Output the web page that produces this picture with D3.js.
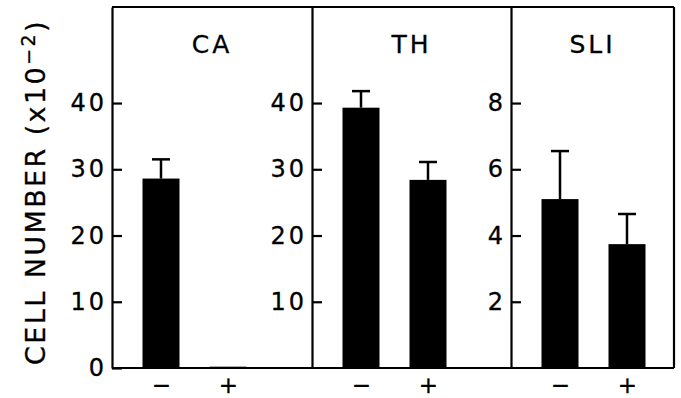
<!DOCTYPE html>
<html>
<head>
<meta charset="utf-8">
<script src="https://cdnjs.cloudflare.com/ajax/libs/d3/7.8.5/d3.min.js"></script>
<style>
  body { margin: 0; background: #fff; }
  svg text { font-family: "DejaVu Sans", sans-serif; fill: #000; stroke: #000; stroke-width: 0.3px; }
</style>
</head>
<body>
<div id="chart"></div>
<script>
var width = 681, height = 398;

// data
var panelNames = ["CA", "TH", "SLI"];
var treatments = ["\u2212", "+"];
var means = [[28.6, 0.2], [39.3, 28.4], [5.1, 3.74]];
var errTops = [[31.5, null], [41.8, 31.1], [6.55, 4.65]];
var yMax = [54.5, 54.5, 10.9];
var yTicks = [[0, 10, 20, 30, 40], [10, 20, 30, 40], [2, 4, 6, 8]];

// layout
var plotTop = 7, plotBottom = 368;
var panelX = [[112, 312], [312, 511], [511, 674]];
var barW = 37, capW = 18;

var svg = d3.select("#chart").append("svg")
    .attr("width", width)
    .attr("height", height);

panelNames.forEach(function(name, p) {
    var x0 = panelX[p][0], x1 = panelX[p][1];
    var y = d3.scaleLinear().domain([0, yMax[p]]).range([plotBottom, plotTop]);
    var x = d3.scalePoint().domain(treatments).range([x0 + 49, x0 + 116]);

    var g = svg.append("g");

    // y axis: ticks inside, labels outside
    var ya = g.append("g")
        .attr("transform", "translate(" + x0 + ",0)")
        .call(d3.axisLeft(y).tickValues(yTicks[p]).tickSize(-10).tickSizeOuter(0).tickPadding(5)
              .tickFormat(d3.format("d")));
    ya.select(".domain").attr("stroke-width", 2.2);
    ya.selectAll(".tick line").attr("stroke-width", 2.2);
    ya.selectAll(".tick text").attr("font-size", 24).attr("font-family", "DejaVu Sans").attr("letter-spacing", 3);

    // x labels
    var xa = g.append("g")
        .attr("transform", "translate(0," + plotBottom + ")")
        .call(d3.axisBottom(x).tickSize(0).tickPadding(9));
    xa.select(".domain").remove();
    xa.selectAll(".tick text").attr("font-size", 23).attr("font-family", "DejaVu Sans");

    // bars
    g.selectAll(".bar").data(means[p]).enter().append("rect")
        .attr("class", "bar")
        .attr("x", function(d, i) { return x(treatments[i]) - barW / 2; })
        .attr("y", function(d) { return y(d); })
        .attr("width", barW)
        .attr("height", function(d) { return y(0) - y(d); })
        .attr("fill", "#000");

    // error bars (upper only)
    var eb = errTops[p].map(function(e, i) { return {e: e, m: means[p][i], t: treatments[i]}; })
        .filter(function(d) { return d.e != null; });
    g.selectAll(".err").data(eb).enter().append("line")
        .attr("x1", function(d) { return x(d.t); })
        .attr("x2", function(d) { return x(d.t); })
        .attr("y1", function(d) { return y(d.m); })
        .attr("y2", function(d) { return y(d.e); })
        .attr("stroke", "#000").attr("stroke-width", 2.5);
    g.selectAll(".cap").data(eb).enter().append("line")
        .attr("x1", function(d) { return x(d.t) - capW / 2; })
        .attr("x2", function(d) { return x(d.t) + capW / 2; })
        .attr("y1", function(d) { return y(d.e); })
        .attr("y2", function(d) { return y(d.e); })
        .attr("stroke", "#000").attr("stroke-width", 2.5);

    // panel title
    g.append("text")
        .attr("x", (x0 + x1) / 2)
        .attr("y", 53)
        .attr("text-anchor", "middle")
        .attr("font-size", 25)
        .attr("letter-spacing", 3)
        .text(name);
});

// frame: top, bottom, right
svg.append("line").attr("x1", 112).attr("x2", 674).attr("y1", plotTop).attr("y2", plotTop)
    .attr("stroke", "#000").attr("stroke-width", 2.2);
svg.append("line").attr("x1", 112).attr("x2", 674).attr("y1", plotBottom).attr("y2", plotBottom)
    .attr("stroke", "#000").attr("stroke-width", 2.2);
svg.append("line").attr("x1", 674).attr("x2", 674).attr("y1", plotTop).attr("y2", plotBottom)
    .attr("stroke", "#000").attr("stroke-width", 2.2);

// y title
var yt = svg.append("text")
    .attr("transform", "translate(45,192) rotate(-90)")
    .attr("text-anchor", "middle")
    .attr("font-size", 27)
    .attr("letter-spacing", 2.4);
yt.append("tspan").text("CELL NUMBER (x10");
yt.append("tspan").attr("dy", -10).attr("font-size", 19).text("\u22122");
yt.append("tspan").attr("dy", 10).text(")");
</script>
</body>
</html>
